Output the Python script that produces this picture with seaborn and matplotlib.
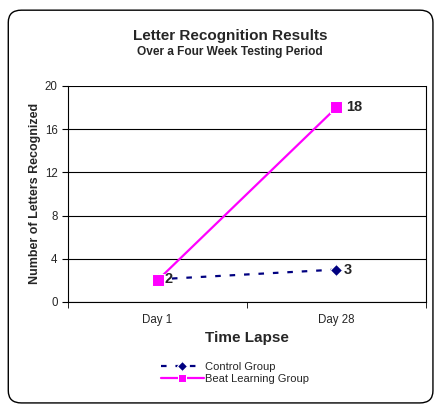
import matplotlib
matplotlib.use("Agg")
import matplotlib.pyplot as plt
import seaborn as sns
import pandas as pd
from matplotlib.patches import FancyBboxPatch

# data
days = ["Day 1", "Day 28"]
control = [2.1, 3]
beat = [2, 18]
control_labels = ["2", "3"]
beat_labels = ["", "18"]

df = pd.DataFrame({
    "day": days * 2,
    "value": control + beat,
    "group": ["Control Group"] * 2 + ["Beat Learning Group"] * 2,
})

sns.set_style("white")
plt.rcParams["font.family"] = ["Liberation Sans", "DejaVu Sans"]

fig = plt.figure(figsize=(4.36, 4.07), dpi=100)
ax = fig.add_axes([0.156, 0.258, 0.821, 0.531])

pal = {"Control Group": "#000080", "Beat Learning Group": "#FF00FF"}
sns.lineplot(data=df[df.group == "Control Group"], x="day", y="value", ax=ax,
             color=pal["Control Group"], linestyle=(0, (2.5, 4)), linewidth=1.6,
             marker="D", markersize=6.5, label="Control Group", sort=False)
sns.lineplot(data=df[df.group == "Beat Learning Group"], x="day", y="value", ax=ax,
             color=pal["Beat Learning Group"], linewidth=1.6,
             marker="s", markersize=8, label="Beat Learning Group", sort=False)

for i, (v, t) in enumerate(zip(control, control_labels)):
    ax.annotate(t, (i, v), xytext=(5, 0), textcoords="offset points",
                fontsize=10.5, fontweight="bold", va="center")
for i, (v, t) in enumerate(zip(beat, beat_labels)):
    if t:
        ax.annotate(t, (i, v), xytext=(7, 0), textcoords="offset points",
                    fontsize=10.5, fontweight="bold", va="center")

ax.set_xlim(-0.5, 1.5)
ax.set_ylim(0, 20)
ax.set_yticks(range(0, 21, 4))
ax.set_xticks([0, 1])
ax.set_xticklabels(days, fontsize=8.3)
ax.set_xticks([-0.5, 0.5, 1.5], minor=True)
ax.tick_params(axis="y", labelsize=8.3, length=4, direction="out", left=True, color="black")
ax.tick_params(axis="x", which="minor", length=4, direction="out", bottom=True, color="black")
ax.tick_params(axis="x", which="major", length=0, pad=9)
ax.grid(axis="y", color="black", linewidth=0.8)
ax.set_axisbelow(True)
for s in ["left", "bottom", "right"]:
    ax.spines[s].set_visible(True)
    ax.spines[s].set_color("black")
    ax.spines[s].set_linewidth(0.8)
ax.spines["top"].set_visible(False)

ax.set_xlabel("Time Lapse", fontsize=11, fontweight="bold", labelpad=3)
ax.set_ylabel("Number of Letters Recognized", fontsize=9, fontweight="bold", labelpad=3)

fig.text(0.528, 0.912, "Letter Recognition Results", ha="center", va="center",
         fontsize=11, fontweight="bold")
fig.text(0.528, 0.872, "Over a Four Week Testing Period", ha="center", va="center",
         fontsize=8.6, fontweight="bold")

ax.legend(loc="center", bbox_to_anchor=(0.538, 0.083), bbox_transform=fig.transFigure,
          frameon=False, fontsize=8, handlelength=3.9, labelspacing=0.2,
          handletextpad=0.05, borderaxespad=0, markerscale=0.8)

border = FancyBboxPatch((0.019, 0.01), 0.974, 0.965, transform=fig.transFigure,
                        boxstyle="round,pad=0,rounding_size=0.03",
                        facecolor="none", edgecolor="black", linewidth=1.0)
fig.patches.append(border)

fig.savefig("out.png", dpi=100)
